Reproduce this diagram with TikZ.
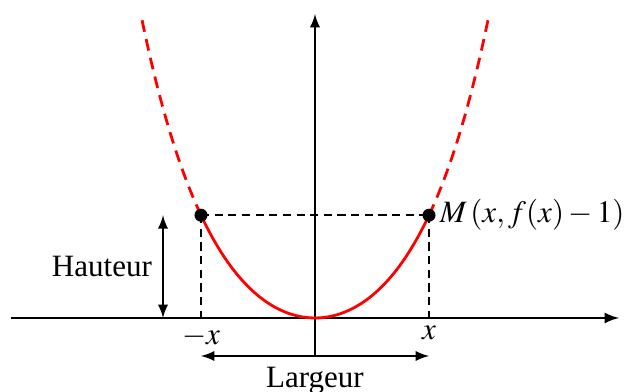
\documentclass[tikz,border=0pt]{standalone}
\usepackage{mathptmx}
\usepackage{fontspec}
\setmainfont{Liberation Serif}
\usetikzlibrary{arrows}
\begin{document}
\begin{tikzpicture}[x=24.5pt,y=24.5pt,
  axis/.style={line width=0.6pt,-latex},
  curve/.style={red,line width=0.9pt},
  guide/.style={line width=0.5pt,dash pattern=on 2.6pt off 1.8pt},
  dim/.style={line width=0.5pt,latex-latex},
  pt/.style={circle,fill=black,inner sep=0pt,minimum size=4.2pt}]
\useasboundingbox (-4.145,-0.974) rectangle (4.224,4.184);
\coordinate (xl) at (-4,0);
\coordinate (xr) at (4,0);
\coordinate (yb) at (0,-0.5);
\coordinate (yt) at (0,4);
\draw[axis] (xl) -- (xr);
\draw[axis,line width=0.5pt] (yb) -- (yt);
% catenary y = cosh(x) - 1
\draw[curve,domain=-1.5:1.5,samples=80] plot (\x,{cosh(\x)-1});
\draw[curve,dash pattern=on 3.8pt off 2.4pt,domain=1.5:2.292,samples=40] plot (\x,{cosh(\x)-1});
\draw[curve,dash pattern=on 3.8pt off 2.4pt,domain=-1.5:-2.292,samples=40] plot (\x,{cosh(\x)-1});
\node[pt] (A) at (-1.5,{cosh(1.5)-1}) {};
\node[pt] (M) at (1.5,{cosh(1.5)-1}) {};
\coordinate (A0) at (-1.5,0);
\coordinate (M0) at (1.5,0);
\draw[guide] (A.center) -- (M.center);
\draw[guide] (A.center) -- (A0);
\draw[guide] (M.center) -- (M0);
\node[anchor=west,inner sep=1pt] (ML) at (M.east) {$M\,(x,f(x)-1)$};
\node[anchor=north,inner sep=0pt] (lmx) at (-1.5,-0.1) {$-x$};
\node[anchor=north,inner sep=0pt] (lx) at (1.5,-0.1) {$x$};
\coordinate (h0) at (-2,0);
\coordinate (h1) at (-2,{cosh(1.5)-1});
\draw[dim] (h0) -- (h1) node[midway,left=0pt] (hl) {Hauteur};
\coordinate (w0) at (-1.5,-0.5);
\coordinate (w1) at (1.5,-0.5);
\draw[dim] (w0) -- (w1) node[midway,below=0pt] (wl) {Largeur};
\end{tikzpicture}
\end{document}
